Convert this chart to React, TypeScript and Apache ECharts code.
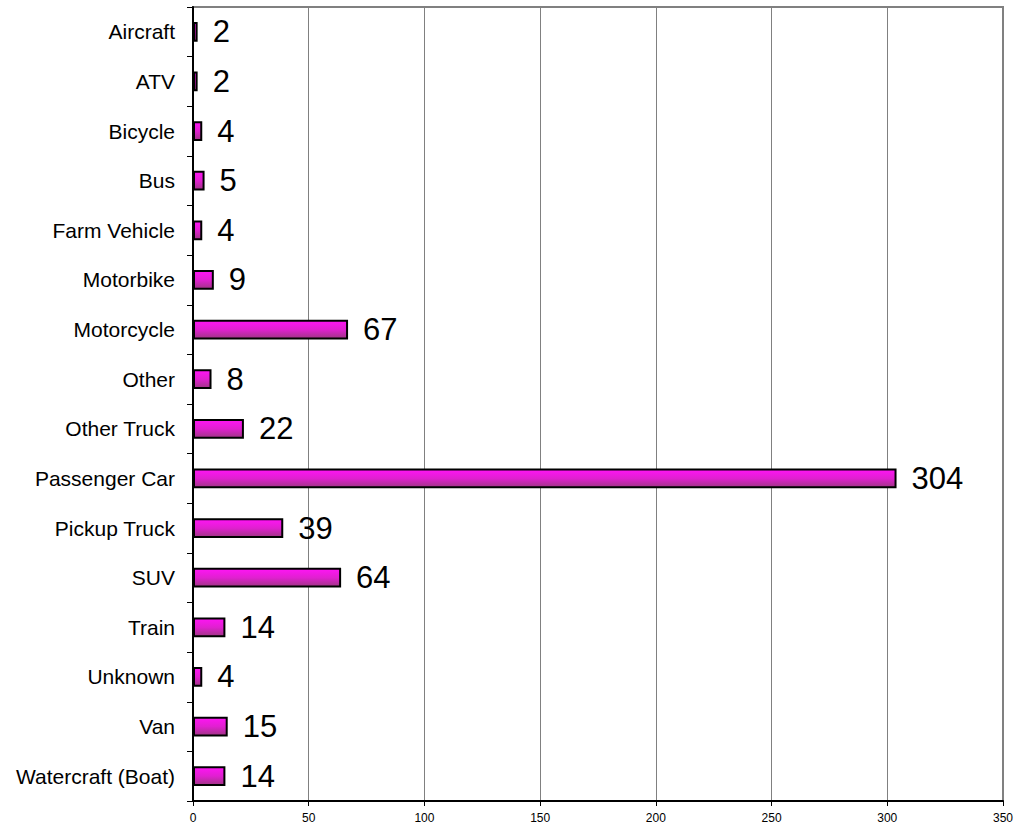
import React, { useEffect, useRef } from "react";
import * as echarts from "echarts";

const categories = [
  "Aircraft",
  "ATV",
  "Bicycle",
  "Bus",
  "Farm Vehicle",
  "Motorbike",
  "Motorcycle",
  "Other",
  "Other Truck",
  "Passenger Car",
  "Pickup Truck",
  "SUV",
  "Train",
  "Unknown",
  "Van",
  "Watercraft (Boat)",
];
const values = [2, 2, 4, 5, 4, 9, 67, 8, 22, 304, 39, 64, 14, 4, 15, 14];
const xMin = 0;
const xMax = 350;
const xStep = 50;

const FONT = "'Liberation Sans', Arial, sans-serif";

export default function App() {
  const ref = useRef<HTMLDivElement>(null);
  useEffect(() => {
    document.body.style.margin = "0";
    const chart = echarts.init(ref.current!, null, { renderer: "svg" });
    chart.setOption({
      animation: false,
      backgroundColor: "#ffffff",
      grid: {
        left: 193,
        top: 7,
        right: 19,
        bottom: 26,
        show: true,
        borderColor: "#808080",
        borderWidth: 2,
        containLabel: false,
      },
      xAxis: {
        type: "value",
        min: xMin,
        max: xMax,
        interval: xStep,
        axisLine: { show: true, lineStyle: { color: "#000", width: 2 } },
        axisTick: { show: true, length: 5, lineStyle: { color: "#000", width: 1 } },
        axisLabel: { color: "#000", fontSize: 12, fontFamily: FONT, margin: 11 },
        splitLine: { show: true, lineStyle: { color: "#808080", width: 1 } },
      },
      yAxis: {
        type: "category",
        data: categories,
        inverse: true,
        z: 1,
        axisLine: { show: true, lineStyle: { color: "#000", width: 2 } },
        axisTick: { show: true, length: 6, lineStyle: { color: "#000", width: 1 } },
        axisLabel: { color: "#000", fontSize: 21, fontFamily: FONT, margin: 18 },
        splitLine: { show: false },
      },
      series: [
        {
          type: "bar",
          data: values,
          barWidth: "40%",
          z: 3,
          itemStyle: {
            color: new echarts.graphic.LinearGradient(0, 0, 0, 1, [
              { offset: 0, color: "#ff14f5" },
              { offset: 0.5, color: "#e020d0" },
              { offset: 1, color: "#a03585" },
            ]),
            borderColor: "#000",
            borderWidth: 2,
          },
          label: {
            show: true,
            position: "right",
            distance: 15,
            color: "#000",
            fontSize: 31,
            fontFamily: FONT,
          },
        },
      ],
    });
    return () => chart.dispose();
  }, []);
  return (
    <div
      ref={ref}
      style={{ position: "absolute", left: 0, top: 0, width: 1022, height: 827 }}
    />
  );
}
